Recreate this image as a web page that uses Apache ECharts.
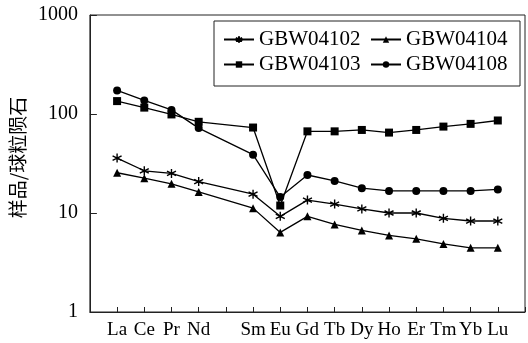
<!DOCTYPE html>
<html><head><meta charset="utf-8">
<script src="https://cdn.jsdelivr.net/npm/echarts@6/dist/echarts.min.js"></script>
<style>html,body{margin:0;padding:0;background:#fff}#c{width:528px;height:343px}</style>
</head><body><div id="c"></div>
<script>
// categories (with blank padding slots at both ends and the empty Pm slot)
const categories = ['start','La','Ce','Pr','Nd','Pm','Sm','Eu','Gd','Tb','Dy','Ho','Er','Tm','Yb','Lu','end'];
const hiddenLabels = ['start','Pm','end'];
const yTicks = [1, 10, 100, 1000];
const seriesNames = ['GBW04102','GBW04104','GBW04103','GBW04108'];

const GBW04102 = [null,35.9,26.7,25.1,20.8,null,15.5,9.25,13.5,12.3,11.0,10.0,10.0,8.84,8.3,8.3,null];
const GBW04104 = [null,25.5,22.5,19.7,16.3,null,11.2,6.37,9.25,7.67,6.67,5.94,5.49,4.87,4.45,4.45,null];
const GBW04103 = [null,135,116,99,83.4,null,73,11.9,66.8,66.8,69,64.9,69,74.6,79.5,86,null];
const GBW04108 = [null,173,137,110,72,null,38.8,14.5,24.2,21.1,17.8,16.7,16.7,16.7,16.7,17.3,null];

const serif = '"Liberation Serif","Times New Roman",serif';
const asterisk = 'path://M5,0L5,10M0.67,2.5L9.33,7.5M0.67,7.5L9.33,2.5';

function mk(name, data, symbol, size, extra) {
  return Object.assign({
    name: name, type: 'line', data: data, connectNulls: true,
    symbol: symbol, symbolSize: size,
    lineStyle: {color: '#000', width: 1.3},
    itemStyle: {color: '#000', borderWidth: 0},
    animation: false
  }, extra || {});
}

const chart = echarts.init(document.getElementById('c'), null, {renderer: 'canvas'});
chart.setOption({
  backgroundColor: '#fff',
  animation: false,
  grid: {left: 89, top: 15, bottom: 31, width: 441.6, show: true, borderColor: '#222', borderWidth: 1},
  legend: {
    data: seriesNames,
    left: 214, top: 21, width: 300,
    orient: 'horizontal',
    padding: [8, 7, 11, 9],
    itemGap: 4, itemWidth: 30, itemHeight: 8,
    borderColor: '#222', borderWidth: 1,
    formatter: name => '{a|' + name + '}',
    textStyle: {fontFamily: serif, fontSize: 21, color: '#000',
      rich: {a: {width: 107, height: 20, lineHeight: 20, fontFamily: serif, fontSize: 21, color: '#000'}}}
  },
  xAxis: {
    type: 'category', data: categories, boundaryGap: false,
    axisLine: {lineStyle: {color: '#222', width: 1}},
    axisTick: {inside: true, length: 5, interval: 0, lineStyle: {color: '#222'}},
    axisLabel: {interval: 0, margin: 9, fontFamily: serif, fontSize: 19, color: '#000',
      formatter: v => hiddenLabels.indexOf(v) >= 0 ? '' : v},
    splitLine: {show: false}
  },
  yAxis: {
    type: 'log', logBase: 10, min: yTicks[0], max: yTicks[yTicks.length - 1],
    name: '样品/球粒陨石', nameLocation: 'middle', nameGap: 61,
    nameTextStyle: {fontFamily: '"Noto Sans CJK SC", sans-serif', fontSize: 19, color: '#000', padding: [0, 0, 0, 12]},
    axisLine: {show: true, lineStyle: {color: '#222', width: 1}},
    axisTick: {show: true, inside: true, length: 7, lineStyle: {color: '#222'}},
    axisLabel: {margin: 12, fontFamily: serif, fontSize: 20, color: '#000', formatter: v => String(v)},
    splitLine: {show: false},
    minorTick: {show: false}
  },
  series: [
    mk('GBW04102', GBW04102, asterisk, 9, {itemStyle: {color: '#000', borderColor: '#000', borderWidth: 1.4}}),
    mk('GBW04104', GBW04104, 'triangle', 8),
    mk('GBW04103', GBW04103, 'rect', 8),
    mk('GBW04108', GBW04108, 'circle', 8)
  ]
});
</script></body></html>
